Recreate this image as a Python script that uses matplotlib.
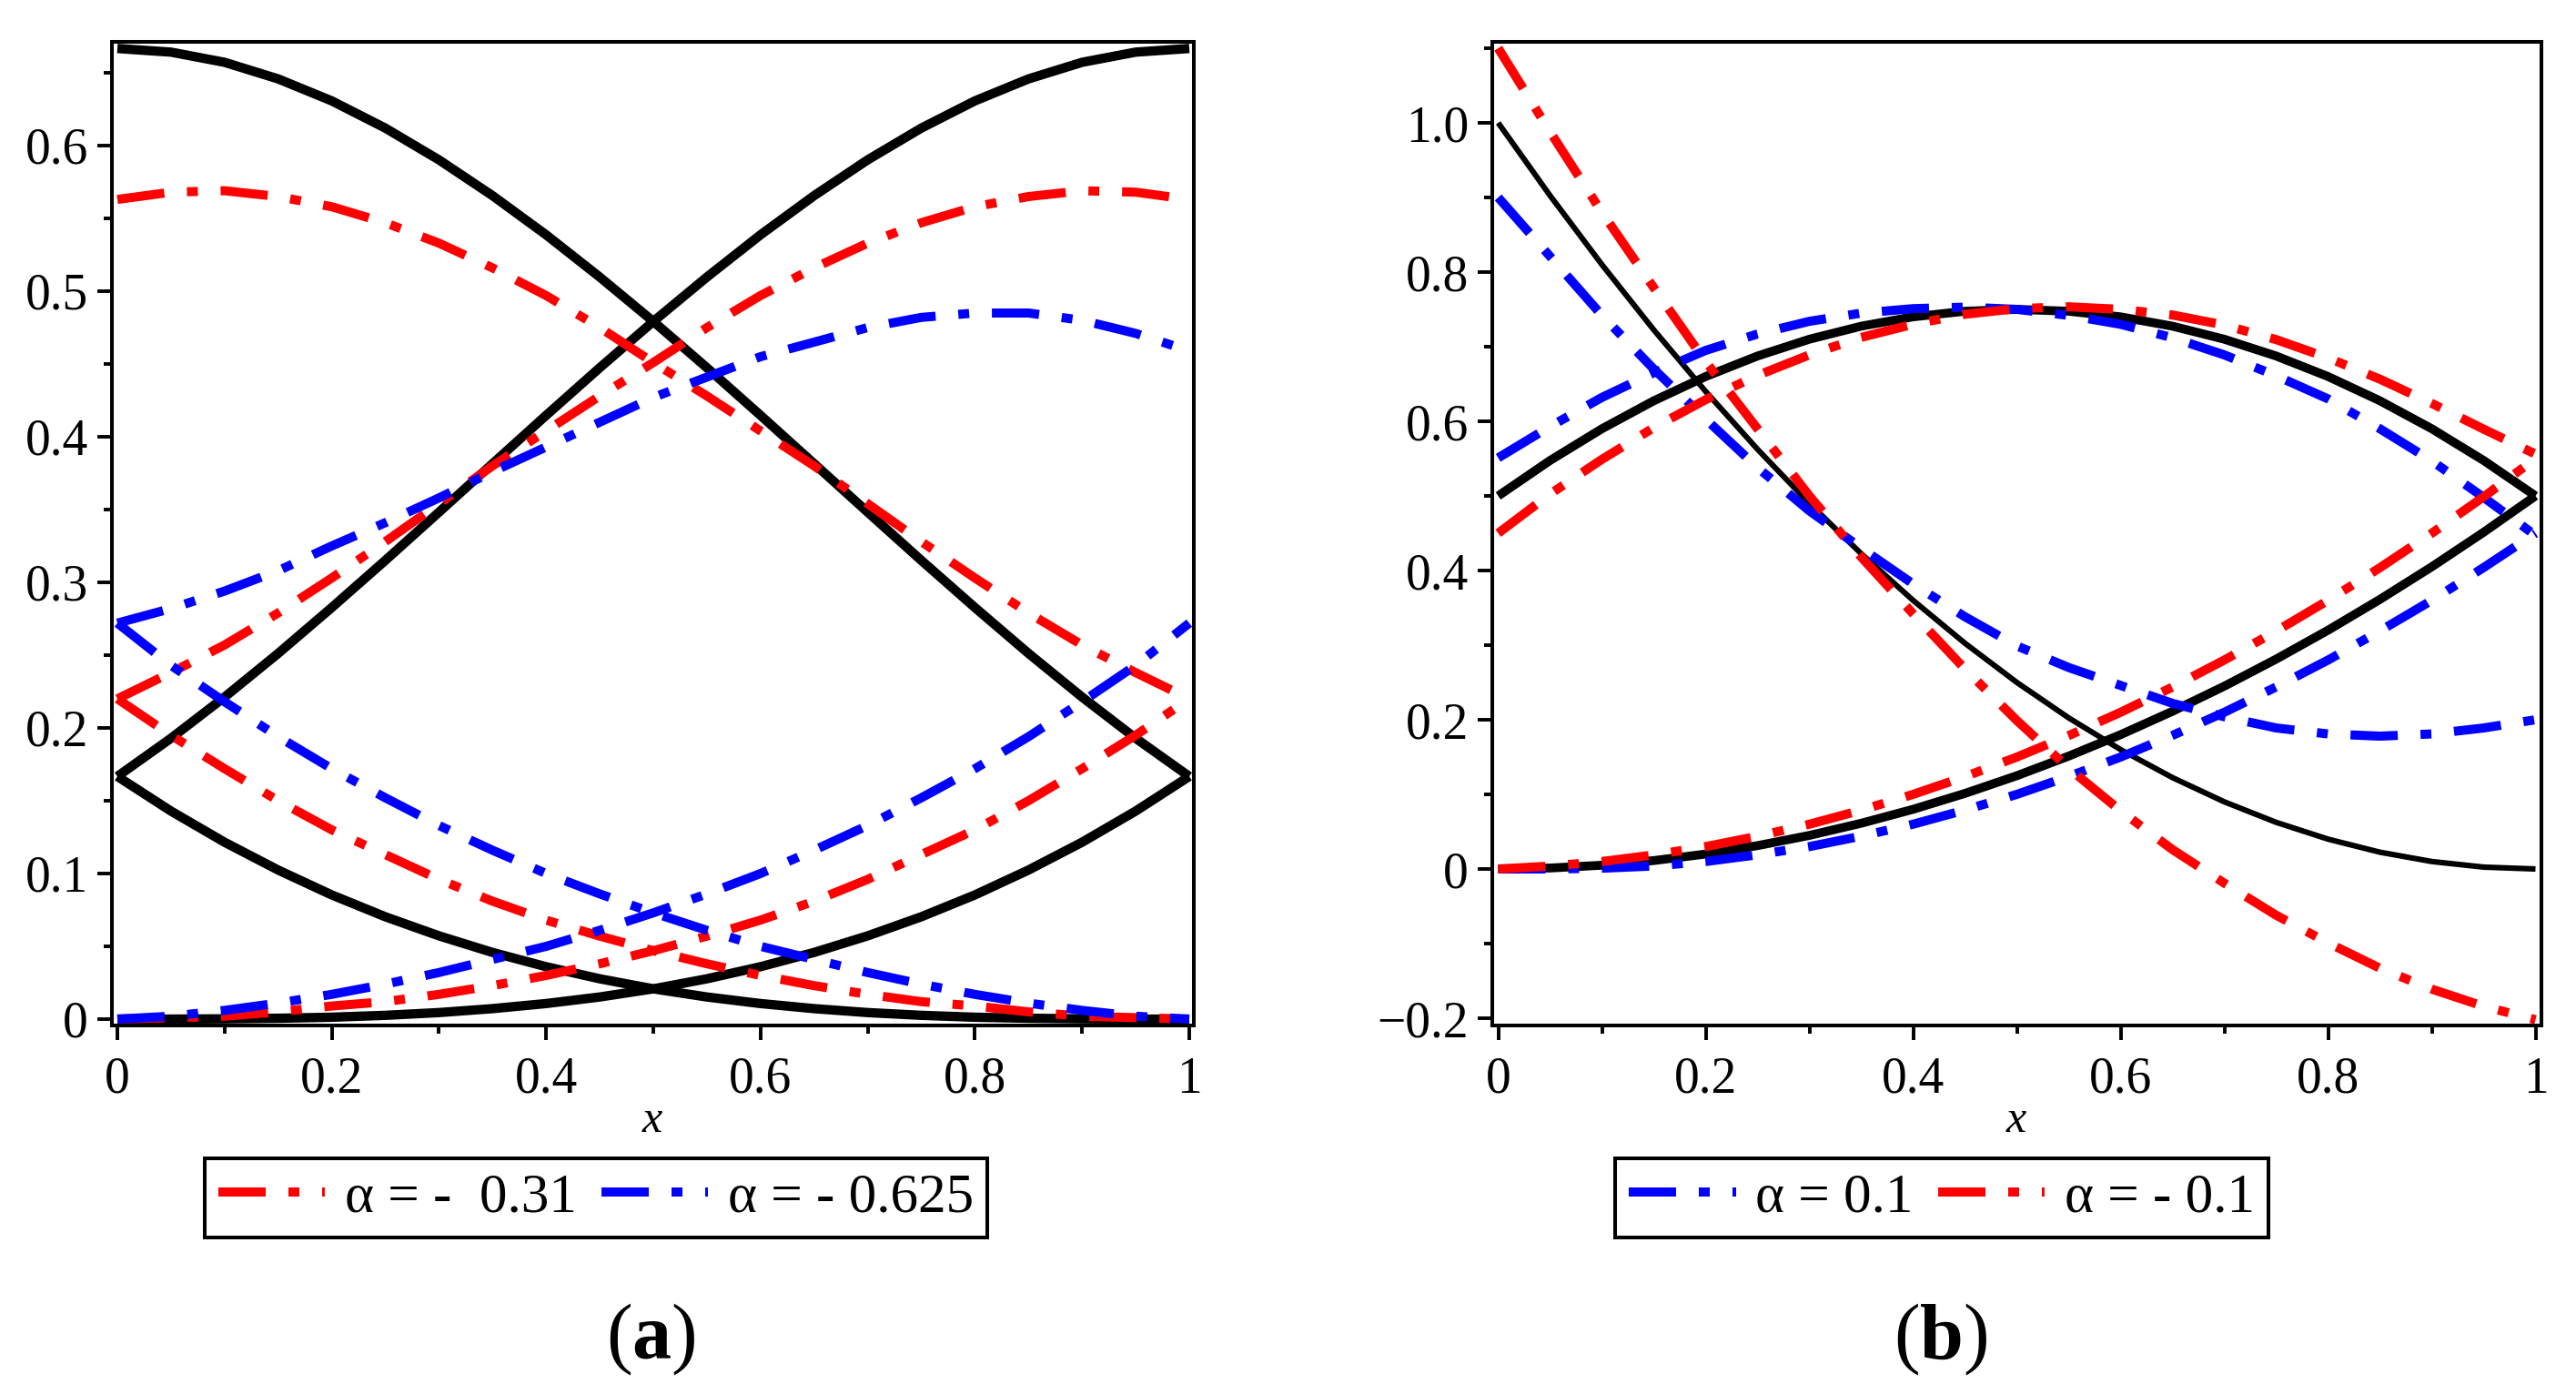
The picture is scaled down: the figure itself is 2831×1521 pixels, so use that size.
import matplotlib
matplotlib.use('Agg')
import matplotlib.pyplot as plt
from matplotlib.ticker import FixedLocator

plt.rcParams['font.family'] = ['Liberation Serif', 'DejaVu Serif']
plt.rcParams['mathtext.fontset'] = 'custom'
plt.rcParams['mathtext.rm'] = 'Liberation Serif'
plt.rcParams['mathtext.bf'] = 'Liberation Serif:bold'
plt.rcParams['mathtext.it'] = 'Liberation Serif:italic'

# ---------------- data ----------------
x = [0.0, 0.05, 0.1, 0.15, 0.2, 0.25, 0.3, 0.35, 0.4, 0.45, 0.5,
     0.55, 0.6, 0.65, 0.7, 0.75, 0.8, 0.85, 0.9, 0.95, 1.0]

# panel (a): black solid curves
a_black_1 = [0.1667, 0.1429, 0.1215, 0.1024, 0.0853, 0.0703, 0.0572, 0.0458, 0.0360, 0.0277, 0.0208,
             0.0152, 0.0107, 0.0072, 0.0045, 0.0026, 0.0013, 0.0006, 0.0002, 0.0000, 0.0]
a_black_2 = [0.6667, 0.6642, 0.6572, 0.6458, 0.6307, 0.6120, 0.5902, 0.5656, 0.5387, 0.5097, 0.4792,
             0.4474, 0.4147, 0.3815, 0.3482, 0.3151, 0.2827, 0.2512, 0.2212, 0.1929, 0.1667]
a_black_3 = [0.1667, 0.1929, 0.2212, 0.2512, 0.2827, 0.3151, 0.3482, 0.3815, 0.4147, 0.4474, 0.4792,
             0.5097, 0.5387, 0.5656, 0.5902, 0.6120, 0.6307, 0.6458, 0.6572, 0.6642, 0.6667]
a_black_4 = [0.0, 0.0000, 0.0002, 0.0006, 0.0013, 0.0026, 0.0045, 0.0072, 0.0107, 0.0152, 0.0208,
             0.0277, 0.0360, 0.0458, 0.0572, 0.0703, 0.0853, 0.1024, 0.1215, 0.1429, 0.1667]
# panel (a): alpha = -0.31 (red)
a_red_1 = [0.563, 0.568, 0.569, 0.565, 0.558, 0.547, 0.533, 0.516, 0.497, 0.475, 0.451,
           0.428, 0.404, 0.380, 0.354, 0.328, 0.303, 0.279, 0.257, 0.238, 0.220]
a_red_2 = [0.220, 0.238, 0.257, 0.279, 0.303, 0.328, 0.354, 0.380, 0.404, 0.428, 0.451,
           0.475, 0.497, 0.516, 0.533, 0.547, 0.558, 0.565, 0.569, 0.568, 0.563]
a_red_3 = [0.220, 0.195, 0.172, 0.150, 0.130, 0.113, 0.096, 0.081, 0.068, 0.057, 0.047,
           0.038, 0.030, 0.023, 0.017, 0.012, 0.009, 0.005, 0.002, 0.001, 0.0]
a_red_4 = [0.0, 0.001, 0.002, 0.005, 0.009, 0.012, 0.017, 0.023, 0.030, 0.038, 0.047,
           0.057, 0.068, 0.081, 0.096, 0.113, 0.130, 0.150, 0.172, 0.195, 0.220]
# panel (a): alpha = -0.625 (blue)
a_blue_1 = [0.272, 0.282, 0.294, 0.308, 0.325, 0.341, 0.358, 0.376, 0.393, 0.410, 0.427,
            0.441, 0.455, 0.465, 0.475, 0.482, 0.485, 0.485, 0.480, 0.471, 0.459]
a_blue_2 = [0.272, 0.243, 0.218, 0.194, 0.172, 0.152, 0.133, 0.116, 0.100, 0.086, 0.073,
            0.061, 0.050, 0.041, 0.032, 0.024, 0.017, 0.011, 0.006, 0.002, 0.0]
a_blue_3 = [0.0, 0.002, 0.006, 0.011, 0.017, 0.024, 0.032, 0.041, 0.050, 0.061, 0.073,
            0.086, 0.100, 0.116, 0.133, 0.152, 0.172, 0.194, 0.218, 0.243, 0.272]

# panel (b): black curves
b_black_thin = [1.0, 0.9025, 0.81, 0.7225, 0.64, 0.5625, 0.49, 0.4225, 0.36, 0.3025, 0.25,
                0.2025, 0.16, 0.1225, 0.09, 0.0625, 0.04, 0.0225, 0.01, 0.0025, 0.0]
b_black_mid = [0.5, 0.5475, 0.59, 0.6275, 0.66, 0.6875, 0.71, 0.7275, 0.74, 0.7475, 0.75,
               0.7475, 0.74, 0.7275, 0.71, 0.6875, 0.66, 0.6275, 0.59, 0.5475, 0.5]
b_black_low = [0.0, 0.0013, 0.005, 0.0113, 0.02, 0.0313, 0.045, 0.0613, 0.08, 0.1013, 0.125,
               0.1513, 0.18, 0.2113, 0.245, 0.2813, 0.32, 0.3613, 0.405, 0.4513, 0.5]
# panel (b): alpha = 0.1 (blue)
b_blue_1 = [0.900, 0.821, 0.742, 0.670, 0.603, 0.538, 0.480, 0.430, 0.382, 0.338, 0.299,
            0.270, 0.246, 0.222, 0.204, 0.189, 0.181, 0.178, 0.181, 0.189, 0.200]
b_blue_2 = [0.551, 0.593, 0.632, 0.665, 0.695, 0.717, 0.734, 0.745, 0.751, 0.753, 0.750,
            0.742, 0.730, 0.712, 0.689, 0.661, 0.630, 0.590, 0.547, 0.498, 0.447]
b_blue_3 = [0.0, 0.0, 0.001, 0.004, 0.010, 0.019, 0.030, 0.044, 0.060, 0.079, 0.100,
            0.124, 0.150, 0.179, 0.210, 0.244, 0.280, 0.319, 0.360, 0.404, 0.450]
# panel (b): alpha = -0.1 (red)
b_red_1 = [1.100, 0.988, 0.880, 0.779, 0.680, 0.590, 0.500, 0.418, 0.342, 0.268, 0.199,
           0.135, 0.078, 0.026, -0.019, -0.062, -0.099, -0.133, -0.161, -0.184, -0.202]
b_red_2 = [0.450, 0.5025, 0.549, 0.5915, 0.629, 0.6615, 0.689, 0.7125, 0.730, 0.7435, 0.751,
           0.7535, 0.750, 0.7425, 0.729, 0.7095, 0.685, 0.6565, 0.624, 0.5895, 0.556]
b_red_3 = [0.0, 0.0038, 0.010, 0.0188, 0.030, 0.0438, 0.060, 0.0788, 0.100, 0.1238, 0.150,
           0.1788, 0.210, 0.2438, 0.280, 0.3188, 0.360, 0.4038, 0.450, 0.4988, 0.550]

# ticks / labels
x_ticks = [0, 0.2, 0.4, 0.6, 0.8, 1.0]
x_ticklabels = ['0', '0.2', '0.4', '0.6', '0.8', '1']
x_minor = [0.1, 0.3, 0.5, 0.7, 0.9]
a_yticks = [0, 0.1, 0.2, 0.3, 0.4, 0.5, 0.6]
a_yticklabels = ['0', '0.1', '0.2', '0.3', '0.4', '0.5', '0.6']
a_yminor = [0.05, 0.15, 0.25, 0.35, 0.45, 0.55, 0.65]
b_yticks = [-0.2, 0, 0.2, 0.4, 0.6, 0.8, 1.0]
b_yticklabels = ['\u22120.2', '0', '0.2', '0.4', '0.6', '0.8', '1.0']
b_yminor = [-0.1, 0.1, 0.3, 0.5, 0.7, 0.9, 1.1]
a_legend = ['\u03b1 = -  0.31', '\u03b1 = - 0.625']
b_legend = ['\u03b1 = 0.1', '\u03b1 = - 0.1']

# ---------------- figure ----------------
W, H = 2831, 1521
fig = plt.figure(figsize=(W / 200, H / 200), dpi=200, facecolor='white')

def fx(px):
    return px / W

def fy(py):
    return 1 - py / H

axA = fig.add_axes([fx(123), fy(1127), fx(1312) - fx(123), fy(46) - fy(1127)])
axB = fig.add_axes([fx(1640), fy(1127), fx(2793) - fx(1640), fy(46) - fy(1127)])

DD = (0, (5.2, 2.5, 1.2, 2.5))
LW_C = 3.6
LW_K = 3.7
RED = '#ff0000'
BLUE = '#0000ff'

# panel (a)
for yy in (a_black_1, a_black_2, a_black_3, a_black_4):
    axA.plot(x, yy, color='black', lw=LW_K, solid_capstyle='butt')
hr = None
for yy in (a_red_1, a_red_2, a_red_3, a_red_4):
    l, = axA.plot(x, yy, color=RED, lw=LW_C, ls=DD, dash_capstyle='butt')
    hr = hr or l
hb = None
for yy in (a_blue_1, a_blue_2, a_blue_3):
    l, = axA.plot(x, yy, color=BLUE, lw=LW_C, ls=DD, dash_capstyle='butt')
    hb = hb or l

# panel (b)
axB.plot(x, b_black_thin, color='black', lw=2.2, solid_capstyle='butt')
axB.plot(x, b_black_mid, color='black', lw=3.5, solid_capstyle='butt')
axB.plot(x, b_black_low, color='black', lw=3.5, solid_capstyle='butt')
hb2 = None
for yy in (b_blue_1, b_blue_2, b_blue_3):
    l, = axB.plot(x, yy, color=BLUE, lw=LW_C, ls=DD, dash_capstyle='butt')
    hb2 = hb2 or l
hr2 = None
for yy in (b_red_1, b_red_2, b_red_3):
    l, = axB.plot(x, yy, color=RED, lw=LW_C, ls=DD, dash_capstyle='butt')
    hr2 = hr2 or l

axA.set_xlim((123 - 129) / 1178, (1312 - 129) / 1178)
axA.set_ylim((1120 - 1127) / 1600, (1120 - 46) / 1600)
axB.set_xlim((1640 - 1646.5) / 1140, (2793 - 1646.5) / 1140)
axB.set_ylim((955 - 1127) / 820, (955 - 46) / 820)

for ax, yt, ytl, ym in ((axA, a_yticks, a_yticklabels, a_yminor),
                        (axB, b_yticks, b_yticklabels, b_yminor)):
    ax.set_xticks(x_ticks, x_ticklabels)
    ax.set_yticks(yt, ytl)
    ax.xaxis.set_minor_locator(FixedLocator(x_minor))
    ax.yaxis.set_minor_locator(FixedLocator(ym))
    ax.tick_params(which='both', direction='out', width=1.4, color='black',
                   top=False, right=False)
    ax.tick_params(which='major', length=5.6)
    ax.tick_params(which='minor', length=3.2)
    ax.tick_params(axis='x', which='major', pad=6.5, labelsize=20)
    ax.tick_params(axis='y', which='major', pad=3.8, labelsize=20)
    for s in ax.spines.values():
        s.set_linewidth(1.45)
        s.set_color('black')

# x labels
fig.text(fx(717), fy(1232), 'x', ha='center', va='center', style='italic', fontsize=18)
fig.text(fx(2216), fy(1232), 'x', ha='center', va='center', style='italic', fontsize=18)

# legends
common = dict(loc='center', ncol=2, frameon=True, fancybox=False, framealpha=1,
              edgecolor='black', handlelength=1.92, handletextpad=0.35,
              columnspacing=0.45, borderpad=0.25, borderaxespad=0,
              prop={'family': 'Liberation Serif', 'size': 22},
              bbox_transform=fig.transFigure)
legA = axA.legend([hr, hb], a_legend, bbox_to_anchor=(fx(655), fy(1316.5)), **common)
legB = axB.legend([hb2, hr2], b_legend, bbox_to_anchor=(fx(2134), fy(1316.5)), **common)
for lg in (legA, legB):
    lg.get_frame().set_linewidth(1.45)

# panel labels
fig.text(fx(715), fy(1472), r'$(\mathbf{a})$', ha='center', va='center', fontsize=31)
fig.text(fx(2133), fy(1472), r'$(\mathbf{b})$', ha='center', va='center', fontsize=31)

fig.savefig('out.png', dpi=200, facecolor='white')
